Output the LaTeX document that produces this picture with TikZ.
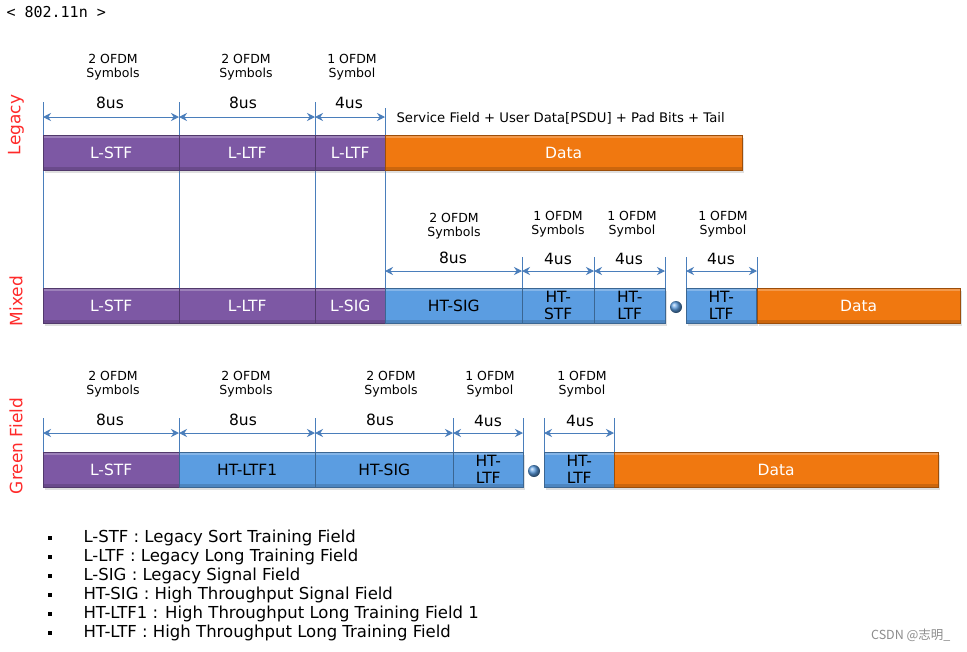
\documentclass[tikz,border=0pt]{standalone}
\usepackage{fontspec}
\setmainfont{DejaVu Sans}
\newfontfamily\monofont{DejaVu Sans Mono}
\newfontfamily\cjk{Noto Sans CJK SC}
\usetikzlibrary{arrows.meta,shadows}
\definecolor{legpurple}{HTML}{7D58A4}
\definecolor{htblue}{HTML}{5B9DE1}
\definecolor{dataorange}{HTML}{F07810}
\definecolor{dimblue}{HTML}{4A7EBB}
\definecolor{rowred}{HTML}{FF2A2A}

\begin{document}
\begin{tikzpicture}[x=1pt,y=-1pt,
	field/.style={anchor=west,minimum height=35pt,inner sep=0pt,align=center,
		font=\fontsize{15.5}{17.5}\selectfont,text=white,fill=#1,draw=#1!65!black,
		drop shadow={opacity=0.25,shadow xshift=1.5pt,shadow yshift=-2.5pt},
		path picture={
			\fill[white,opacity=0.25] (path picture bounding box.north west) rectangle ([yshift=-3pt]path picture bounding box.north east);
			\fill[black,opacity=0.15] (path picture bounding box.south west) rectangle ([yshift=3pt]path picture bounding box.south east);}},
	guide/.style={dimblue,line width=0.9pt},
	span/.style={dimblue,line width=1pt,{Stealth[length=8pt,width=8pt]}-{Stealth[length=8pt,width=8pt]}},
	sym/.style={align=center,font=\fontsize{12.5}{14.5}\selectfont},
	dur/.style={font=\fontsize{15.5}{17}\selectfont},
	row/.style={rotate=90,text=rowred,font=\fontsize{17}{19}\selectfont},
	ball/.style={circle,minimum size=12pt,inner sep=0pt,ball color=htblue},
	bullet/.style={fill=black,minimum size=4pt,inner sep=0pt},
	legend/.style={anchor=west,font=\fontsize{16.5}{18}\selectfont},
]
	\useasboundingbox (0,0) rectangle (967,651);
	\fill[white] (0,0) rectangle (967,651);

	\node[anchor=west,font=\monofont\fontsize{15}{17}\selectfont] (title) at (3,12) {< 802.11n >};

	% row names
	\node[row] (legacy) at (16,125) {Legacy};
	\node[row] (mixed) at (16,301) {Mixed};
	\node[row] (green) at (16,446) {Green Field};

	% guide lines
	\coordinate (gA1) at (43,102);
	\coordinate (gA2) at (179,102);
	\coordinate (gA3) at (315,102);
	\coordinate (gA4) at (385,108);
	\coordinate (gB1) at (522,257);
	\coordinate (gB2) at (594,257);
	\coordinate (gB3) at (665,257);
	\coordinate (gB4) at (686,257);
	\coordinate (gB5) at (757,257);
	\coordinate (gC1) at (43,418);
	\coordinate (gC2) at (179,418);
	\coordinate (gC3) at (315,418);
	\coordinate (gC4) at (453,418);
	\coordinate (gC5) at (523,418);
	\coordinate (gC6) at (544,418);
	\coordinate (gC7) at (614,418);
	\draw[guide] (gA1) -- (gA1 |- 0,288);
	\draw[guide] (gA2) -- (gA2 |- 0,288);
	\draw[guide] (gA3) -- (gA3 |- 0,288);
	\draw[guide] (gA4) -- (gA4 |- 0,288);
	\draw[guide] (gB1) -- (gB1 |- 0,288);
	\draw[guide] (gB2) -- (gB2 |- 0,288);
	\draw[guide] (gB3) -- (gB3 |- 0,288);
	\draw[guide] (gB4) -- (gB4 |- 0,288);
	\draw[guide] (gB5) -- (gB5 |- 0,288);
	\draw[guide] (gC1) -- (gC1 |- 0,452);
	\draw[guide] (gC2) -- (gC2 |- 0,452);
	\draw[guide] (gC3) -- (gC3 |- 0,452);
	\draw[guide] (gC4) -- (gC4 |- 0,452);
	\draw[guide] (gC5) -- (gC5 |- 0,452);
	\draw[guide] (gC6) -- (gC6 |- 0,452);
	\draw[guide] (gC7) -- (gC7 |- 0,452);

	% legacy
	\node[field=legpurple,minimum width=136pt] (lstfA) at (43,152.5) {L-STF};
	\node[field=legpurple,minimum width=136pt] (lltfA) at (179,152.5) {L-LTF};
	\node[field=legpurple,minimum width=70pt] (lsigA) at (315,152.5) {L-LTF};
	\node[field=dataorange,minimum width=357pt] (dataA) at (385,152.5) {Data};
	\node[sym] (symA1) at (113,67) {2 OFDM\\Symbols};
	\node[sym] (symA2) at (246,67) {2 OFDM\\Symbols};
	\node[sym] (symA3) at (352,67) {1 OFDM\\Symbol};
	\node[dur] (durA1) at (110,103) {8us};
	\node[dur] (durA2) at (243,103) {8us};
	\node[dur] (durA3) at (349,103) {4us};
	\draw[span] (gA1 |- 0,117) -- (gA2 |- 0,117);
	\draw[span] (gA2 |- 0,117) -- (gA3 |- 0,117);
	\draw[span] (gA3 |- 0,117) -- (gA4 |- 0,117);
	\node[anchor=west,font=\fontsize{13.2}{15}\selectfont] (payload) at (393,118) {Service Field + User Data[PSDU] + Pad Bits + Tail};

	% mixed
	\node[field=legpurple,minimum width=136pt] (lstfB) at (43,305.5) {L-STF};
	\node[field=legpurple,minimum width=136pt] (lltfB) at (179,305.5) {L-LTF};
	\node[field=legpurple,minimum width=70pt] (lsigB) at (315,305.5) {L-SIG};
	\node[field=htblue,text=black,minimum width=137pt] (htsigB) at (385,305.5) {HT-SIG};
	\node[field=htblue,text=black,minimum width=72pt] (htstfB) at (522,305.5) {HT-\\STF};
	\node[field=htblue,text=black,minimum width=71pt] (htltfB) at (594,305.5) {HT-\\LTF};
	\node[ball] (dotB) at (676,307) {};
	\node[field=htblue,text=black,minimum width=70pt] (htltfBB) at (686,305.5) {HT-\\LTF};
	\node[field=dataorange,minimum width=203pt] (dataB) at (757,305.5) {Data};
	\node[sym] (symB1) at (454,226) {2 OFDM\\Symbols};
	\node[sym] (symB2) at (558,224) {1 OFDM\\Symbols};
	\node[sym] (symB3) at (632,224) {1 OFDM\\Symbol};
	\node[sym] (symB4) at (723,224) {1 OFDM\\Symbol};
	\node[dur] (durB1) at (453,258) {8us};
	\node[dur] (durB2) at (558,259) {4us};
	\node[dur] (durB3) at (629,259) {4us};
	\node[dur] (durB4) at (721,259) {4us};
	\draw[span] (gA4 |- 0,271) -- (gB1 |- 0,271);
	\draw[span] (gB1 |- 0,271) -- (gB2 |- 0,271);
	\draw[span] (gB2 |- 0,271) -- (gB3 |- 0,271);
	\draw[span] (gB4 |- 0,271) -- (gB5 |- 0,271);

	% green field
	\node[field=legpurple,minimum width=136pt] (lstfC) at (43,469.5) {L-STF};
	\node[field=htblue,text=black,minimum width=136pt] (htltfoneC) at (179,469.5) {HT-LTF1};
	\node[field=htblue,text=black,minimum width=138pt] (htsigC) at (315,469.5) {HT-SIG};
	\node[field=htblue,text=black,minimum width=70pt] (htltfC) at (453,469.5) {HT-\\LTF};
	\node[ball] (dotC) at (534,471) {};
	\node[field=htblue,text=black,minimum width=70pt] (htltfCC) at (544,469.5) {HT-\\LTF};
	\node[field=dataorange,minimum width=324pt] (dataC) at (614,469.5) {Data};
	\node[sym] (symC1) at (113,384) {2 OFDM\\Symbols};
	\node[sym] (symC2) at (246,384) {2 OFDM\\Symbols};
	\node[sym] (symC3) at (391,384) {2 OFDM\\Symbols};
	\node[sym] (symC4) at (490,384) {1 OFDM\\Symbol};
	\node[sym] (symC5) at (582,384) {1 OFDM\\Symbol};
	\node[dur] (durC1) at (110,420) {8us};
	\node[dur] (durC2) at (243,420) {8us};
	\node[dur] (durC3) at (380,420) {8us};
	\node[dur] (durC4) at (488,421) {4us};
	\node[dur] (durC5) at (580,421) {4us};
	\draw[span] (gC1 |- 0,433) -- (gC2 |- 0,433);
	\draw[span] (gC2 |- 0,433) -- (gC3 |- 0,433);
	\draw[span] (gC3 |- 0,433) -- (gC4 |- 0,433);
	\draw[span] (gC4 |- 0,433) -- (gC5 |- 0,433);
	\draw[span] (gC6 |- 0,433) -- (gC7 |- 0,433);

	% legend
	\node[bullet] (b1) at (50,538) {};
	\node[bullet] (b2) at (50,557) {};
	\node[bullet] (b3) at (50,576) {};
	\node[bullet] (b4) at (50,595) {};
	\node[bullet] (b5) at (50,614) {};
	\node[bullet] (b6) at (50,633) {};
	\node[legend] (t1) at (80,538) {L-STF : Legacy Sort Training Field};
	\node[legend] (t2) at (80,557) {L-LTF : Legacy Long Training Field};
	\node[legend] (t3) at (80,576) {L-SIG : Legacy Signal Field};
	\node[legend] (t4) at (80,595) {HT-SIG : High Throughput Signal Field};
	\node[legend] (t5) at (80,614) {HT-LTF1 : High Throughput Long Training Field 1};
	\node[legend] (t6) at (80,633) {HT-LTF : High Throughput Long Training Field};

	\node[anchor=east,text=black!45,font=\cjk\fontsize{12.5}{14}\selectfont] (mark) at (954,635) {CSDN @志明\_};
\end{tikzpicture}
\end{document}
